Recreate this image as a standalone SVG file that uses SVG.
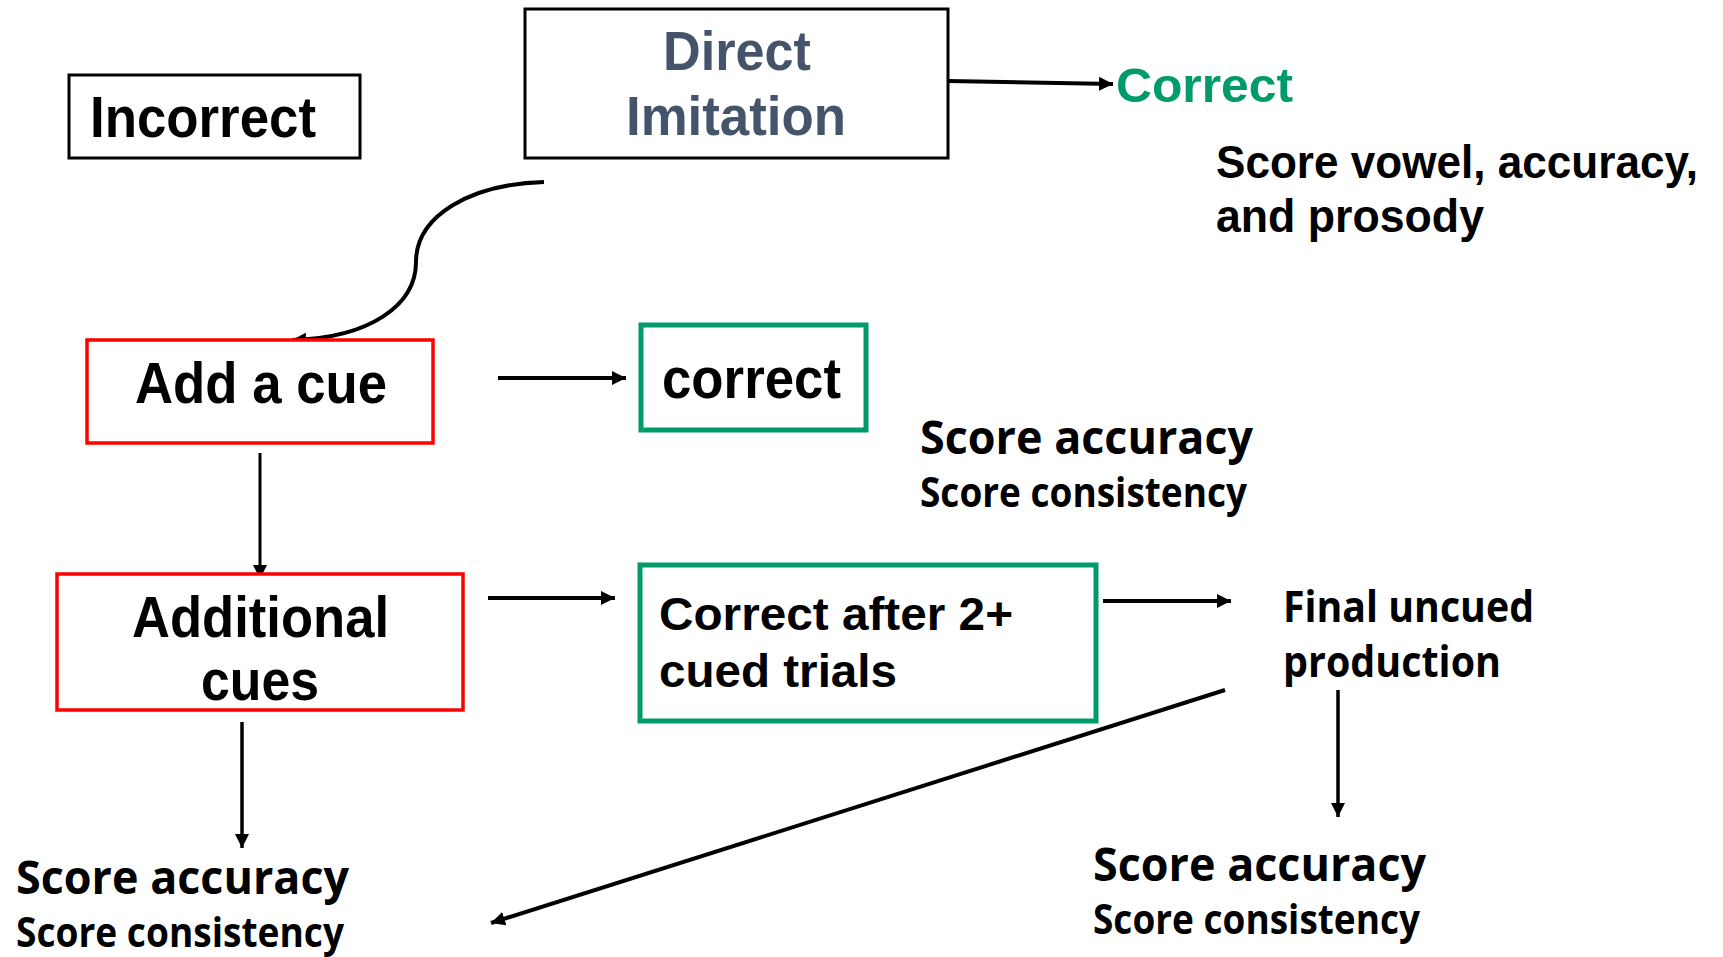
<svg xmlns="http://www.w3.org/2000/svg" width="1723" height="957" viewBox="0 0 1723 957">
  <defs>
    <marker id="arrow" markerUnits="userSpaceOnUse" markerWidth="16" markerHeight="16" refX="14" refY="7" orient="auto">
      <path d="M0,0 L14,7 L0,14 z" fill="#000"/>
    </marker>
    <style>
      .box { fill: #fff; }
      .plain { stroke: #000; stroke-width: 3; }
      .red { stroke: #ff0000; stroke-width: 3.5; }
      .green { stroke: #009a6b; stroke-width: 5; }
      .arial { font-family: "Liberation Sans", Arial, sans-serif; font-weight: bold; }
      .calibri { font-family: "Open Sans", "Noto Sans", sans-serif; font-weight: bold; }
      .dark { fill: #000; }
      .slate { fill: #44546a; }
      .lime { fill: #009a6b; }
      .conn { fill: none; stroke: #000; marker-end: url(#arrow); }
    </style>
  </defs>

  <rect width="1723" height="957" fill="#fff"/>

  <!-- connectors -->
  <g id="connectors">
    <line class="conn" x1="948" y1="81" x2="1113" y2="84" stroke-width="4"/>
    <path class="conn" d="M544,182 C470,184 416,216 416,262 C416,305 370,338 292,340" stroke-width="4"/>
    <line class="conn" x1="498" y1="378" x2="626" y2="378" stroke-width="4"/>
    <line class="conn" x1="260" y1="453" x2="260" y2="579" stroke-width="3"/>
    <line class="conn" x1="488" y1="598" x2="615" y2="598" stroke-width="4"/>
    <line class="conn" x1="1103" y1="601" x2="1231" y2="601" stroke-width="4"/>
    <line class="conn" x1="1338" y1="690" x2="1338" y2="817" stroke-width="3.5"/>
    <line class="conn" x1="1225" y1="690" x2="491" y2="923" stroke-width="4"/>
    <line class="conn" x1="242" y1="722" x2="242" y2="848" stroke-width="3.5"/>
  </g>

  <g id="incorrect">
    <rect class="box plain" x="69" y="75" width="291" height="83"/>
    <text class="arial dark" x="90" y="137" font-size="57" textLength="226" lengthAdjust="spacingAndGlyphs">Incorrect</text>
  </g>

  <g id="direct-imitation">
    <rect class="box plain" x="525" y="9" width="423" height="149"/>
    <text class="arial slate" x="663" y="70" font-size="55" textLength="148" lengthAdjust="spacingAndGlyphs">Direct</text>
    <text class="arial slate" x="626" y="135" font-size="55" textLength="220" lengthAdjust="spacingAndGlyphs">Imitation</text>
  </g>

  <g id="correct-direct">
    <text class="arial lime" x="1116" y="102" font-size="48" textLength="177" lengthAdjust="spacingAndGlyphs">Correct</text>
  </g>

  <g id="score-vowel">
    <text class="arial dark" x="1216" y="178" font-size="46" textLength="482" lengthAdjust="spacingAndGlyphs">Score vowel, accuracy,</text>
    <text class="arial dark" x="1216" y="232" font-size="46" textLength="268" lengthAdjust="spacingAndGlyphs">and prosody</text>
  </g>

  <g id="add-a-cue">
    <rect class="box red" x="87" y="340" width="346" height="103"/>
    <text class="arial dark" x="135" y="403" font-size="57" textLength="252" lengthAdjust="spacingAndGlyphs">Add a cue</text>
  </g>

  <g id="correct-cue">
    <rect class="box green" x="641" y="325" width="225" height="105"/>
    <text class="arial dark" x="662" y="398" font-size="57" textLength="179" lengthAdjust="spacingAndGlyphs">correct</text>
  </g>

  <g id="score-mid">
    <text class="calibri dark" x="920" y="454" font-size="47" textLength="333" lengthAdjust="spacingAndGlyphs">Score accuracy</text>
    <text class="calibri dark" x="920" y="507" font-size="42" textLength="327" lengthAdjust="spacingAndGlyphs">Score consistency</text>
  </g>

  <g id="additional-cues">
    <rect class="box red" x="57" y="574" width="406" height="136"/>
    <text class="arial dark" x="132" y="637" font-size="57" textLength="257" lengthAdjust="spacingAndGlyphs">Additional</text>
    <text class="arial dark" x="201" y="700" font-size="57" textLength="118" lengthAdjust="spacingAndGlyphs">cues</text>
  </g>

  <g id="correct-after">
    <rect class="box green" x="640" y="565" width="456" height="156"/>
    <text class="arial dark" x="659" y="630" font-size="47" textLength="354" lengthAdjust="spacingAndGlyphs">Correct after 2+</text>
    <text class="arial dark" x="659" y="687" font-size="47" textLength="238" lengthAdjust="spacingAndGlyphs">cued trials</text>
  </g>

  <g id="final-uncued">
    <text class="calibri dark" x="1283" y="622" font-size="43" textLength="251" lengthAdjust="spacingAndGlyphs">Final uncued</text>
    <text class="calibri dark" x="1283" y="677" font-size="43" textLength="218" lengthAdjust="spacingAndGlyphs">production</text>
  </g>

  <g id="score-right">
    <text class="calibri dark" x="1093" y="881" font-size="47" textLength="333" lengthAdjust="spacingAndGlyphs">Score accuracy</text>
    <text class="calibri dark" x="1093" y="934" font-size="42" textLength="327" lengthAdjust="spacingAndGlyphs">Score consistency</text>
  </g>

  <g id="score-left">
    <text class="calibri dark" x="16" y="894" font-size="46" textLength="333" lengthAdjust="spacingAndGlyphs">Score accuracy</text>
    <text class="calibri dark" x="16" y="947" font-size="42" textLength="328" lengthAdjust="spacingAndGlyphs">Score consistency</text>
  </g>
</svg>
